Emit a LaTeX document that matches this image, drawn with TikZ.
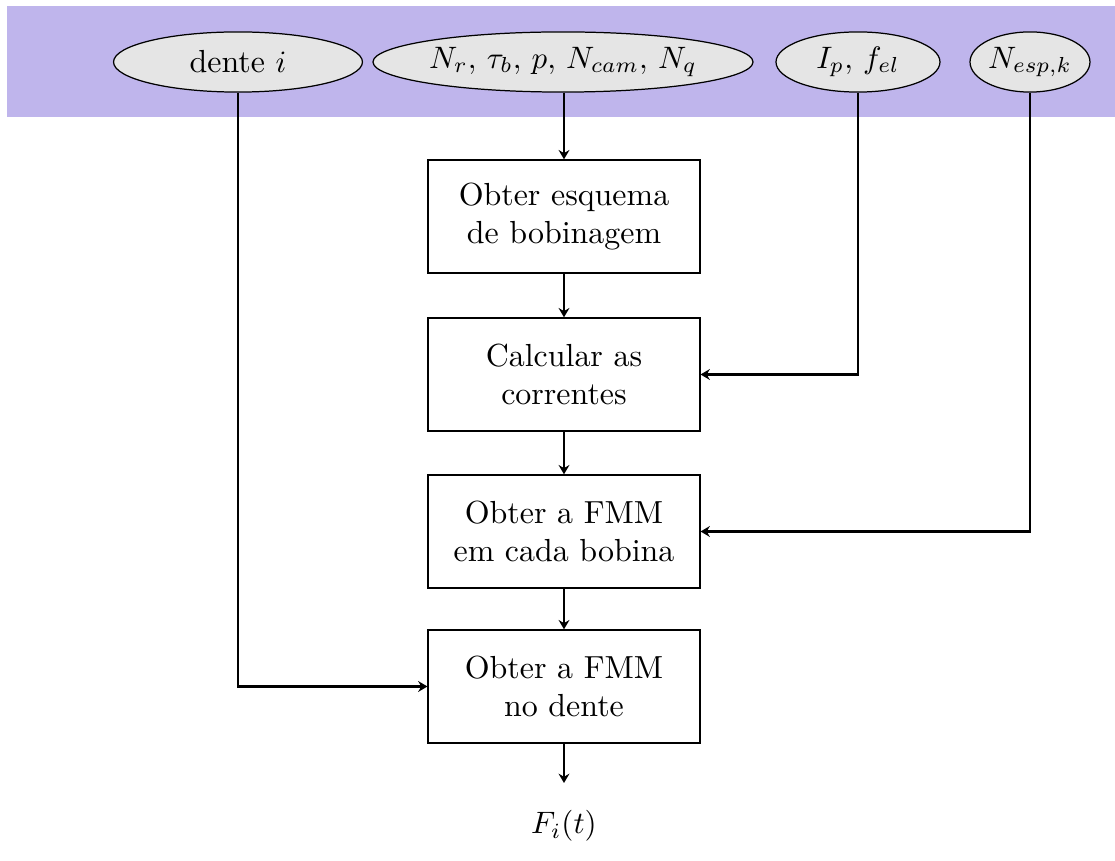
\documentclass[tikz,border=0pt]{standalone}
\usetikzlibrary{shapes.geometric,arrows.meta}
\definecolor{bandcol}{RGB}{191,181,236}
\definecolor{ellcol}{RGB}{229,229,229}
\begin{document}
\begin{tikzpicture}[x=0.3226pt,y=-0.3226pt,
  inbox/.style={ellipse,draw,line width=0.4pt,fill=ellcol,inner sep=0pt,minimum height=19.4pt,font=\fontsize{10.3}{12.4}\selectfont},
  stepbox/.style={draw,line width=0.4pt,rectangle,align=center,minimum width=87.7pt,minimum height=36.5pt,inner sep=0pt,font=\fontsize{10.3}{12.4}\selectfont},
  conn/.style={-{Stealth[length=3pt,width=3.5pt,inset=1pt]},line width=0.7pt}]
\useasboundingbox (0,0) rectangle (1115,861);
\fill[bandcol] (7,6) rectangle (1115,117);
\node[inbox,minimum width=80.3pt] (dente) at (238,62) {dente $i$};
\node[inbox,minimum width=122.6pt] (par) at (563,62) {$N_r,\,\tau_b,\,p,\,N_{cam},\,N_q$};
\node[inbox,minimum width=52.9pt] (ip) at (858,62) {$I_p,\,f_{el}$};
\node[inbox,minimum width=38.7pt] (nesp) at (1030,62) {$N_{esp,k}$};
\node[stepbox] (b1) at (564,216.5) {Obter esquema\\de bobinagem};
\node[stepbox] (b2) at (564,374.5) {Calcular as\\correntes};
\node[stepbox] (b3) at (564,531.5) {Obter a FMM\\em cada bobina};
\node[stepbox] (b4) at (564,686.5) {Obter a FMM\\no dente};
\node[font=\fontsize{10.3}{12.4}\selectfont] (out) at (564,826) {$F_i(t)$};
\coordinate (outend) at (564,783);
\draw[conn] (par.south -| b1.north) -- (b1.north);
\draw[conn] (b1) -- (b2);
\draw[conn] (b2) -- (b3);
\draw[conn] (b3) -- (b4);
\draw[conn] (b4.south) -- (outend);
\draw[conn] (ip.south) |- (b2.east);
\draw[conn] (nesp.south) |- (b3.east);
\draw[conn] (dente.south) |- (b4.west);
\end{tikzpicture}
\end{document}
